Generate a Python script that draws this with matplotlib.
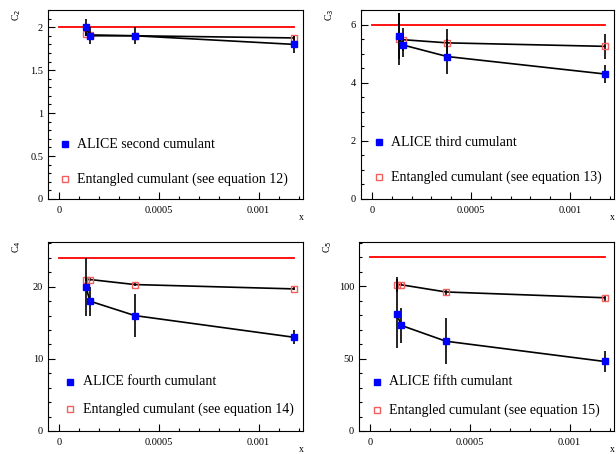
import matplotlib
matplotlib.use("Agg")
import matplotlib.pyplot as plt
from matplotlib.ticker import MultipleLocator, FixedLocator

plt.rcParams["font.family"] = ["Liberation Serif", "DejaVu Serif"]

# x positions of the four ALICE points
x = [0.000135, 0.000155, 0.00038, 0.001175]

# second cumulant
c2_alice = [2.0, 1.9, 1.9, 1.8]
c2_alice_err = [0.1, 0.1, 0.1, 0.1]
c2_ent = [1.92, 1.91, 1.90, 1.875]
c2_ent_err = [0.02, 0.02, 0.02, 0.02]
c2_ideal = 2.0

# third cumulant
c3_alice = [5.6, 5.3, 4.9, 4.3]
c3_alice_err = [0.8, 0.4, 0.6, 0.3]
c3_ent = [5.5, 5.48, 5.37, 5.25]
c3_ent_err = [0.9, 0.4, 0.47, 0.42]
c3_ideal = 6.0

# fourth cumulant
c4_alice = [20.0, 18.0, 16.0, 13.0]
c4_alice_err = [4.0, 2.0, 3.0, 1.0]
c4_ent = [21.0, 21.0, 20.3, 19.7]
c4_ent_err = [0.2, 0.2, 0.2, 0.2]
c4_ideal = 24.0

# fifth cumulant
c5_alice = [81.0, 73.0, 62.0, 48.0]
c5_alice_err = [24.0, 12.0, 16.0, 7.0]
c5_ent = [101.0, 101.0, 96.0, 92.0]
c5_ent_err = [5.0, 1.0, 2.0, 2.0]
c5_ideal = 120.0

panels = [
    ("C$_2$", c2_alice, c2_alice_err, c2_ent, c2_ent_err, c2_ideal,
     "ALICE second cumulant", "12", 2.2, 0.5, 0.1),
    ("C$_3$", c3_alice, c3_alice_err, c3_ent, c3_ent_err, c3_ideal,
     "ALICE third cumulant", "13", 6.5, 2, 0.5),
    ("C$_4$", c4_alice, c4_alice_err, c4_ent, c4_ent_err, c4_ideal,
     "ALICE fourth cumulant", "14", 26.2, 10, 2),
    ("C$_5$", c5_alice, c5_alice_err, c5_ent, c5_ent_err, c5_ideal,
     "ALICE fifth cumulant", "15", 130.5, 50, 10),
]

W, H = 616, 454
fig = plt.figure(figsize=(W / 100, H / 100), dpi=100)
# axes boxes in pixels: left, top, right, bottom
boxes = [(48, 10, 303, 199), (361, 10, 614, 199),
         (48, 242, 303, 431), (359, 242, 614, 431)]
# legend anchors in axes fractions: marker x, text x, first row y, second row y
legpos = [(0.067, 0.114, 0.29, 0.106), (0.071, 0.118, 0.30, 0.116),
          (0.086, 0.137, 0.26, 0.116), (0.07, 0.118, 0.26, 0.11)]

for (ylab, ya, ea, ye, ee, ideal, lab, eq, ytop, ymaj, ymin), (l, t, r, b), (mx, tx, y1, y2) in zip(panels, boxes, legpos):
    ax = fig.add_axes([l / W, 1 - b / H, (r - l) / W, (b - t) / H])
    ax.plot([0, x[-1]], [ideal, ideal], color="red", lw=1.3, zorder=1)
    ax.errorbar(x, ye, yerr=ee, color="black", lw=1.2, elinewidth=1.2,
                capsize=0, zorder=2, marker="s", ms=4, mfc="none", mec="#f06060",
                mew=1.0)
    ax.errorbar(x, ya, yerr=ea, color="black", lw=1.2, elinewidth=1.2,
                capsize=0, zorder=3, marker="s", ms=4, mfc="blue", mec="blue")
    ax.set_xlim(-0.000055, 0.001222)
    ax.set_ylim(0, ytop)
    ax.xaxis.set_major_locator(FixedLocator([0, 0.0005, 0.001]))
    ax.xaxis.set_minor_locator(MultipleLocator(0.0001))
    ax.set_xticklabels(["0", "0.0005", "0.001"])
    ax.yaxis.set_major_locator(MultipleLocator(ymaj))
    ax.yaxis.set_minor_locator(MultipleLocator(ymin))
    ax.yaxis.set_major_formatter(plt.FuncFormatter(lambda v, p: f"{v:g}"))
    ax.tick_params(which="both", direction="in", labelsize=7.5, top=False, right=False)
    ax.tick_params(which="major", length=5, width=0.8)
    ax.tick_params(which="minor", length=2.5, width=0.8)
    ax.tick_params(axis="x", pad=5)
    for s in ax.spines.values():
        s.set_linewidth(0.8)

    # legend drawn by hand, ROOT style
    ax.plot([mx], [y1], transform=ax.transAxes, marker="s", ms=4.5,
            mfc="blue", mec="blue", ls="none", clip_on=False)
    ax.text(tx, y1, lab, transform=ax.transAxes, fontsize=10, va="center")
    ax.plot([mx], [y2], transform=ax.transAxes, marker="s", ms=4.5,
            mfc="none", mec="#f06060", ls="none", clip_on=False)
    ax.text(tx, y2, f"Entangled cumulant (see equation {eq})",
            transform=ax.transAxes, fontsize=10, va="center")

    fig.text((l - 31) / W, 1 - (t + 5) / H, ylab, rotation=90, fontsize=7,
             ha="center", va="center")
    fig.text((r - 2) / W, 1 - min(b + 19, H - 5) / H, "x", fontsize=7,
             ha="center", va="center")

fig.savefig("out.png", dpi=100)
